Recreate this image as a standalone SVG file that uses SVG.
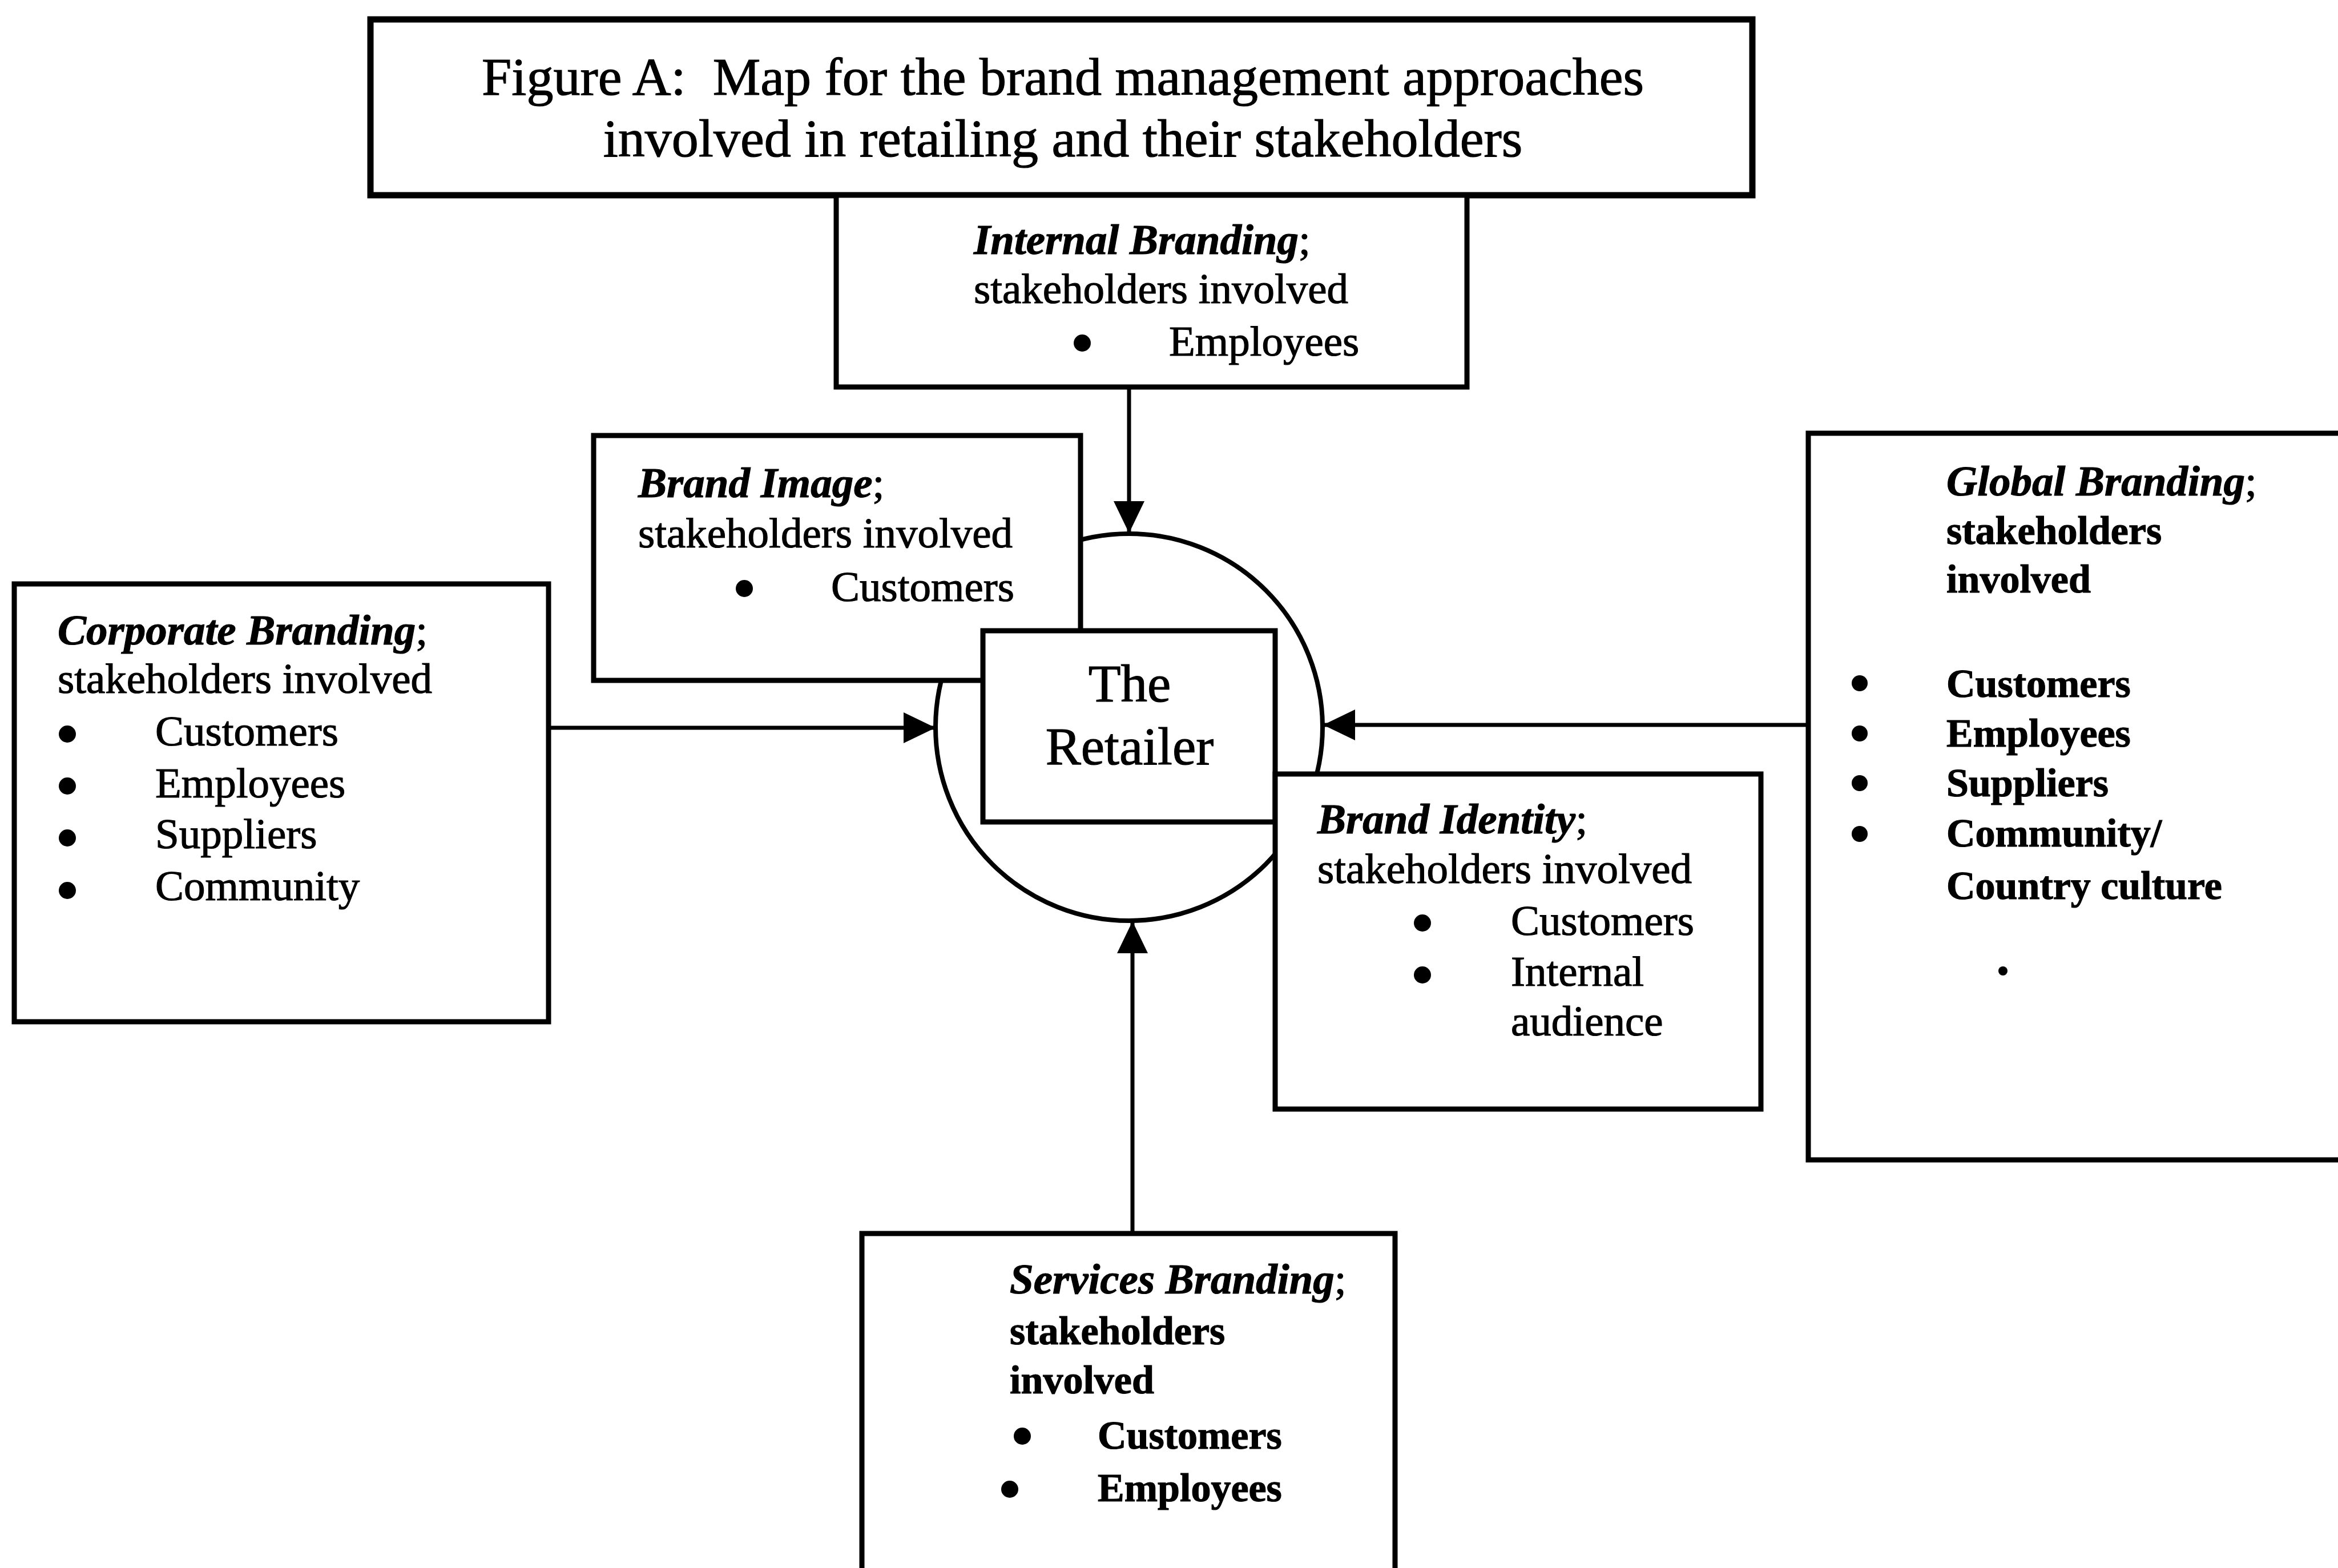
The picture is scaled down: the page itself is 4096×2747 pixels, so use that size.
<svg xmlns="http://www.w3.org/2000/svg" width="4096" height="2747" viewBox="0 0 4096 2747">
<style>
text{font-family:"Liberation Serif","Times New Roman",serif;fill:#000;stroke:#000;stroke-width:1.2}
.box{fill:#fff;stroke:#000;stroke-width:9}
.title{fill:#fff;stroke:#000;stroke-width:11}
.tt{font-size:94px}
.b{font-size:75px}
.g{font-size:70px;font-weight:bold}
.h{font-weight:bold;font-style:italic}
.r{font-size:93px}
.dot{fill:#000}
.conn{stroke:#000;stroke-width:7;fill:none}
</style>
<defs>
<marker id="arr" markerUnits="userSpaceOnUse" markerWidth="56" markerHeight="54" refX="56" refY="27" orient="auto">
<path d="M0,0 L56,27 L0,54 z" fill="#000"/>
</marker>
</defs>
<rect width="4096" height="2747" fill="#fff"/>
<circle id="ring" cx="1978" cy="1274" r="339" fill="none" stroke="#000" stroke-width="8"/>
<g id="connectors" class="conn">
<line x1="1978" y1="678" x2="1978" y2="934" marker-end="url(#arr)"/>
<line x1="961" y1="1275" x2="1639" y2="1275" marker-end="url(#arr)"/>
<line x1="3168" y1="1270" x2="2318" y2="1270" marker-end="url(#arr)"/>
<line x1="1984" y1="2161" x2="1984" y2="1614" marker-end="url(#arr)"/>
</g>
<g id="title">
<rect class="title" x="649" y="34" width="2421" height="308"/>
<text class="tt" x="1862" y="166" text-anchor="middle" xml:space="preserve">Figure A:  Map for the brand management approaches</text>
<text class="tt" x="1862" y="274" text-anchor="middle">involved in retailing and their stakeholders</text>
</g>
<g id="internal-branding">
<rect class="box" x="1465" y="342" width="1105" height="336"/>
<text class="b" x="1706" y="445"><tspan class="h">Internal Branding</tspan>;</text>
<text class="b" x="1706" y="531">stakeholders involved</text>
<circle class="dot" cx="1896" cy="601" r="15"/>
<text class="b" x="2048" y="623">Employees</text>
</g>
<g id="brand-image">
<rect class="box" x="1040" y="763" width="853" height="429"/>
<text class="b" x="1118" y="871"><tspan class="h">Brand Image</tspan>;</text>
<text class="b" x="1118" y="959">stakeholders involved</text>
<circle class="dot" cx="1304" cy="1031" r="15"/>
<text class="b" x="1456" y="1053">Customers</text>
</g>
<g id="corporate-branding">
<rect class="box" x="25" y="1023" width="936" height="767"/>
<text class="b" x="101" y="1129"><tspan class="h">Corporate Branding</tspan>;</text>
<text class="b" x="101" y="1214">stakeholders involved</text>
<circle class="dot" cx="118" cy="1286" r="15"/>
<circle class="dot" cx="118" cy="1377" r="15"/>
<circle class="dot" cx="118" cy="1468" r="15"/>
<circle class="dot" cx="118" cy="1560" r="15"/>
<text class="b" x="272" y="1306">Customers</text>
<text class="b" x="272" y="1397">Employees</text>
<text class="b" x="272" y="1486">Suppliers</text>
<text class="b" x="272" y="1577">Community</text>
</g>
<g id="retailer">
<rect class="box" x="1722" y="1105" width="512" height="335"/>
<text class="r" x="1979" y="1229" text-anchor="middle">The</text>
<text class="r" x="1979" y="1339" text-anchor="middle">Retailer</text>
</g>
<g id="brand-identity">
<rect class="box" x="2234" y="1356" width="851" height="587"/>
<text class="b" x="2308" y="1460"><tspan class="h">Brand Identity</tspan>;</text>
<text class="b" x="2308" y="1547">stakeholders involved</text>
<circle class="dot" cx="2492" cy="1617" r="15"/>
<circle class="dot" cx="2492" cy="1708" r="15"/>
<text class="b" x="2647" y="1638">Customers</text>
<text class="b" x="2647" y="1727">Internal</text>
<text class="b" x="2647" y="1814">audience</text>
</g>
<g id="global-branding">
<rect class="box" x="3168" y="759" width="960" height="1273"/>
<text class="b" x="3410" y="868"><tspan class="h">Global Branding</tspan>;</text>
<text class="g" x="3410" y="953">stakeholders</text>
<text class="g" x="3410" y="1038">involved</text>
<circle class="dot" cx="3258" cy="1197" r="14"/>
<circle class="dot" cx="3258" cy="1285" r="14"/>
<circle class="dot" cx="3258" cy="1372" r="14"/>
<circle class="dot" cx="3258" cy="1461" r="14"/>
<text class="g" x="3410" y="1221">Customers</text>
<text class="g" x="3410" y="1308">Employees</text>
<text class="g" x="3410" y="1395">Suppliers</text>
<text class="g" x="3410" y="1483">Community/</text>
<text class="g" x="3410" y="1575">Country culture</text>
<circle class="dot" cx="3509" cy="1701" r="8"/>
</g>
<g id="services-branding">
<rect class="box" x="1510" y="2161" width="934" height="640"/>
<text class="b" x="1769" y="2266"><tspan class="h">Services Branding</tspan>;</text>
<text class="g" x="1769" y="2355">stakeholders</text>
<text class="g" x="1769" y="2441">involved</text>
<circle class="dot" cx="1791" cy="2516" r="15"/>
<circle class="dot" cx="1769" cy="2609" r="15"/>
<text class="g" x="1923" y="2538">Customers</text>
<text class="g" x="1923" y="2630">Employees</text>
</g>
</svg>
